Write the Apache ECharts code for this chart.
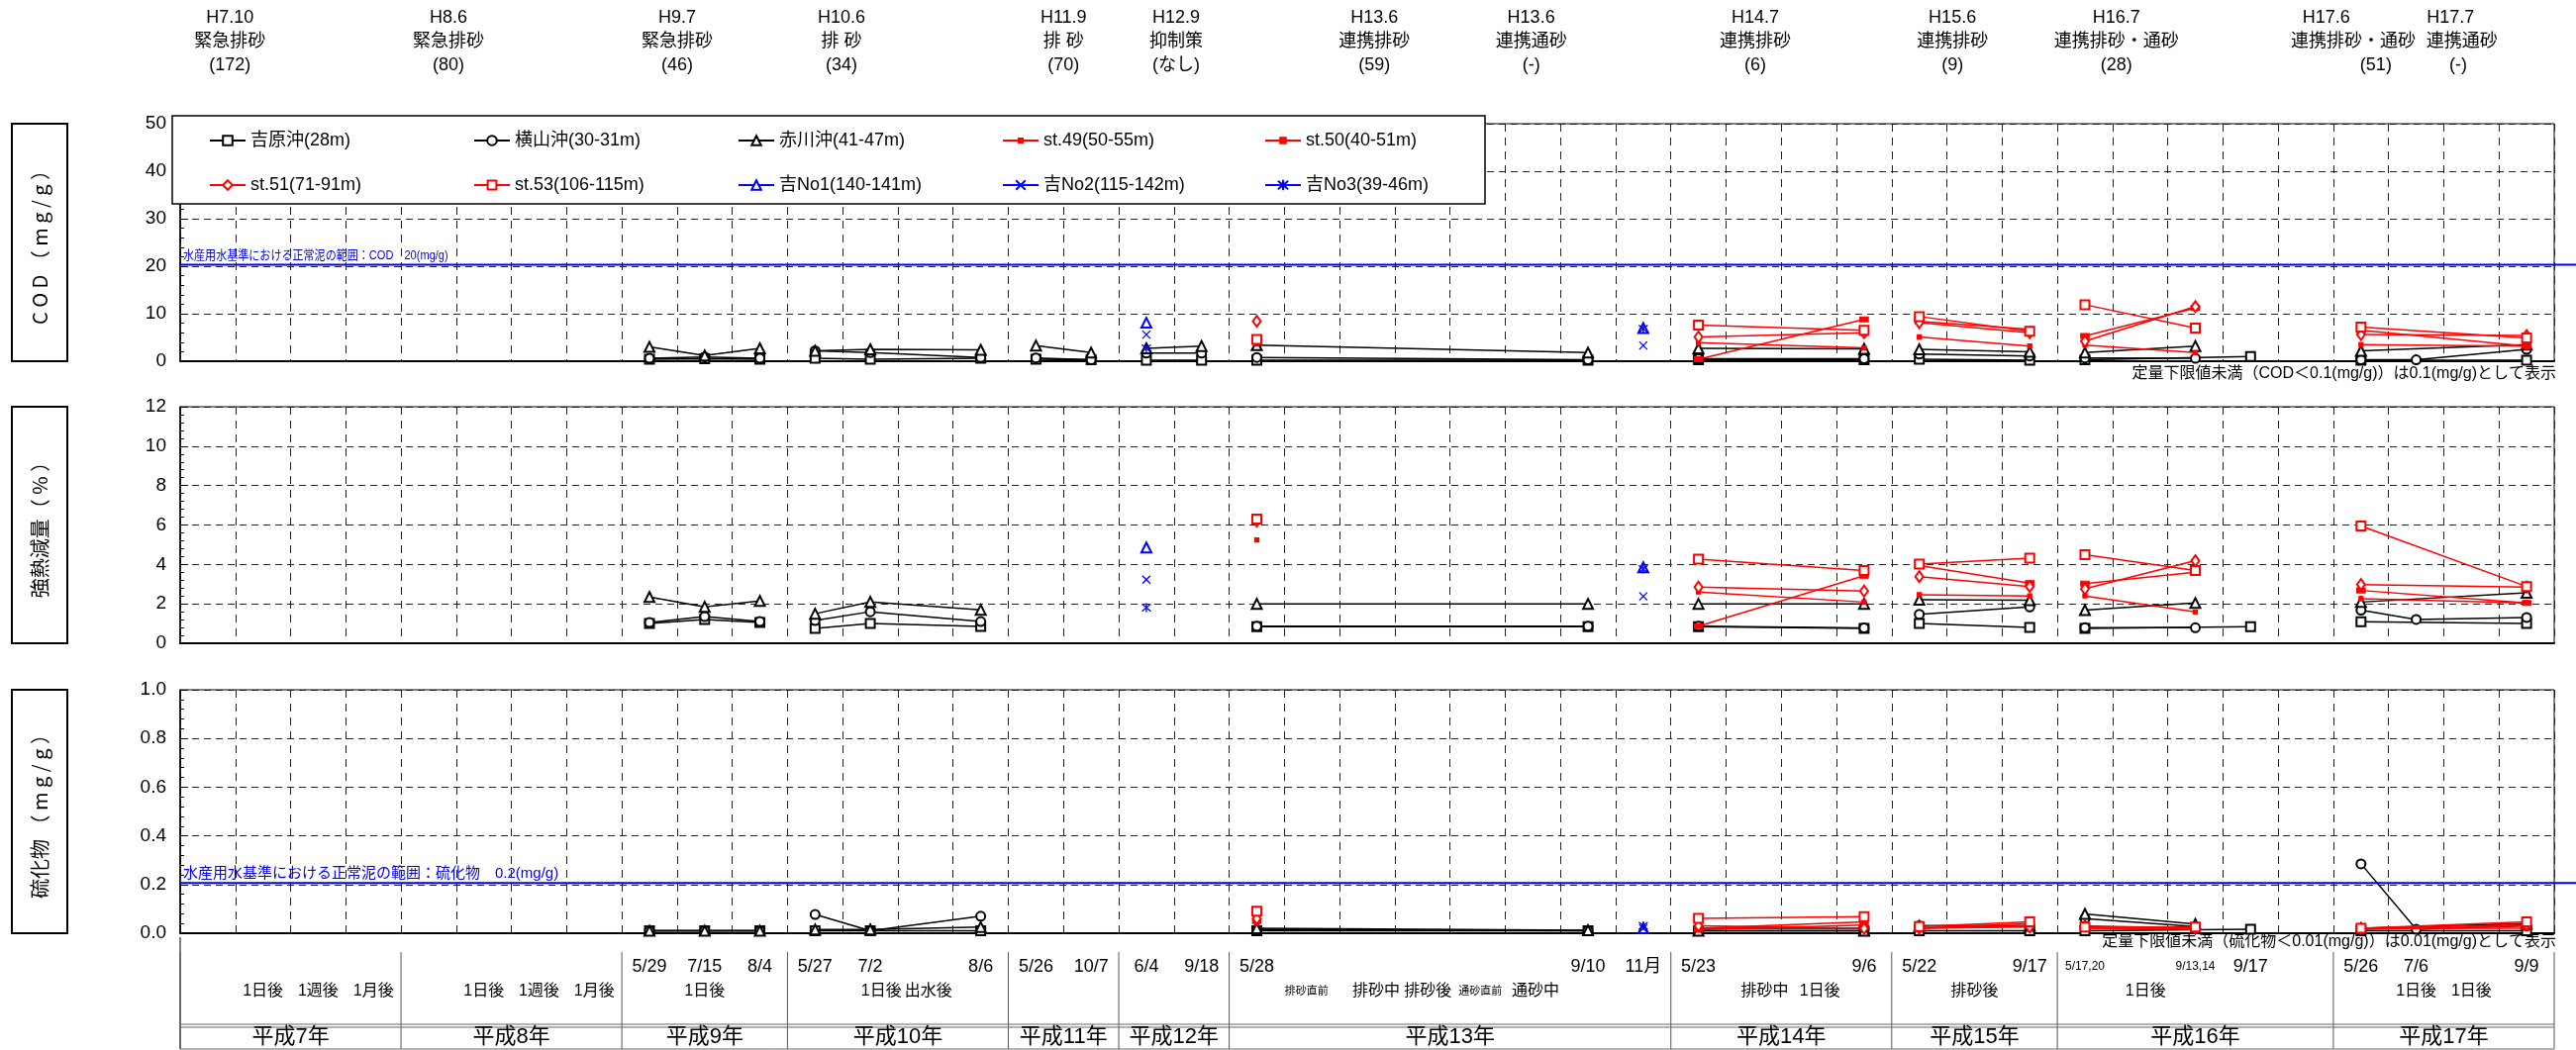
<!DOCTYPE html>
<html><head><meta charset="utf-8">
<script src="https://cdn.jsdelivr.net/npm/echarts@6/dist/echarts.min.js"></script>
<style>html,body{margin:0;padding:0;background:#fff}#c{width:2602px;height:1061px}</style>
</head><body><div id="c"></div>
<script>
// ---------- sampling slots (x position in axis units, year group, date label) ----------
const slotPos  = [8.5,9.5,10.5, 11.5,12.5,14.5, 15.5,16.5, 17.5,18.5, 19.5,25.5,26.5, 27.5,30.5, 31.5,33.5, 34.5,36.5,37.5, 39.5,40.5,42.5];
const slotYear = [9,9,9, 10,10,10, 11,11, 12,12, 13,13,13, 14,14, 15,15, 16,16,16, 17,17,17];
const slotDates = ['5/29','7/15','8/4','5/27','7/2','8/6','5/26','10/7','6/4','9/18','5/28','9/10','11月','5/23','9/6','5/22','9/17','5/17,20','9/13,14','9/17','5/26','7/6','9/9'];

const stationNames = ['吉原沖(28m)','横山沖(30-31m)','赤川沖(41-47m)','st.49(50-55m)','st.50(40-51m)','st.51(71-91m)','st.53(106-115m)','吉No1(140-141m)','吉No2(115-142m)','吉No3(39-46m)'];

const _ = null;
// ---------- COD (mg/g) ----------
const codYoshiwara = [0.4,0.5,0.4, 0.6,0.4,0.6, 0.4,0.3, 0.2,0.2, 0.2,0.2,_, 0.3,0.3, 0.4,0.2, 0.3,_,1.0, 0.2,_,0.2];
const codYokoyama  = [0.6,0.9,0.6, 2.2,1.8,0.8, 0.7,0.3, 1.7,1.7, 0.8,0.3,_, 0.5,0.5, 1.5,1.1, 0.7,0.6,_, 0.3,0.3,2.5];
const codAkagawa   = [3.0,1.2,2.7, 2.2,2.5,2.4, 3.3,1.8, 2.7,3.2, 3.4,1.8,_, 2.7,2.6, 2.5,2.0, 1.8,3.2,_, 2.2,_,3.5];
const codSt49 = [_,_,_,_,_,_,_,_,_,_, 3.6,_,_, 3.9,2.8, 5.1,3.2, 3.4,1.8,_, 3.5,_,3.2];
const codSt50 = [_,_,_,_,_,_,_,_,_,_, 4.2,_,_, 0.4,8.8, 8.4,6.7, 5.3,11.2,_, 6.5,_,3.2];
const codSt51 = [_,_,_,_,_,_,_,_,_,_, 8.4,_,_, 5.1,6.0, 8.1,6.0, 4.2,11.5,_, 5.6,_,5.4];
const codSt53 = [_,_,_,_,_,_,_,_,_,_, 4.6,_,_, 7.6,6.5, 9.4,6.3, 11.9,7.0,_, 7.2,_,4.9];
const codNo1  = [_,_,_,_,_,_,_,_, 8.1,_, _,_,7.0, _,_,_,_,_,_,_,_,_,_];
const codNo2  = [_,_,_,_,_,_,_,_, 5.6,_, _,_,3.3, _,_,_,_,_,_,_,_,_,_];
const codNo3  = [_,_,_,_,_,_,_,_, 2.7,_, _,_,6.8, _,_,_,_,_,_,_,_,_,_];

// ---------- 強熱減量 (%) ----------
const igYoshiwara = [1.0,1.2,1.05, 0.75,1.0,0.85, _,_, _,_, 0.84,0.84,_, 0.84,0.75, 1.0,0.8, 0.75,_,0.84, 1.09,_,1.0];
const igYokoyama  = [1.05,1.35,1.1, 1.15,1.6,1.1, _,_, _,_, 0.86,0.86,_, 0.86,0.78, 1.47,1.84, 0.79,0.79,_, 1.68,1.21,1.31];
const igAkagawa   = [2.35,1.85,2.15, 1.5,2.1,1.7, _,_, _,_, 2.0,2.0,_, 2.0,2.0, 2.21,2.18, 1.68,2.04,_, 2.09,_,2.56];
const igSt49 = [_,_,_,_,_,_,_,_,_,_, 5.24,_,_, 2.6,2.09, 2.46,2.40, 2.40,1.59,_, 2.26,_,2.05];
const igSt50 = [_,_,_,_,_,_,_,_,_,_, 6.25,_,_, 0.87,3.43, 3.94,3.05, 3.02,3.60,_, 2.68,_,2.05];
const igSt51 = [_,_,_,_,_,_,_,_,_,_, 6.2,_,_, 2.85,2.65, 3.38,2.88, 2.76,4.19,_, 2.98,_,2.85];
const igSt53 = [_,_,_,_,_,_,_,_,_,_, 6.3,_,_, 4.27,3.69, 4.02,4.32, 4.49,3.69,_, 5.95,_,2.88];
const igNo1  = [_,_,_,_,_,_,_,_, 4.86,_, _,_,3.85, _,_,_,_,_,_,_,_,_,_];
const igNo2  = [_,_,_,_,_,_,_,_, 3.23,_, _,_,2.38, _,_,_,_,_,_,_,_,_,_];
const igNo3  = [_,_,_,_,_,_,_,_, 1.81,_, _,_,3.77, _,_,_,_,_,_,_,_,_,_];

// ---------- 硫化物 (mg/g) ----------
const sfYoshiwara = [0.01,0.01,0.01, 0.01,0.01,0.01, _,_, _,_, 0.01,0.01,_, 0.01,0.01, 0.01,0.01, 0.01,_,0.016, 0.01,_,0.01];
const sfYokoyama  = [0.01,0.01,0.01, 0.077,0.01,0.07, _,_, _,_, 0.015,0.01,_, 0.02,0.02, 0.03,0.03, 0.06,0.027,_, 0.285,0.016,0.03];
const sfAkagawa   = [0.01,0.01,0.01, 0.015,0.015,0.025, _,_, _,_, 0.02,0.012,_, 0.01,0.01, 0.03,0.03, 0.079,0.038,_, 0.02,_,0.04];
const sfSt49 = [_,_,_,_,_,_,_,_,_,_, 0.04,_,_, 0.02,0.047, 0.02,0.03, 0.02,0.02,_, 0.02,_,0.02];
const sfSt50 = [_,_,_,_,_,_,_,_,_,_, 0.05,_,_, 0.014,0.034, 0.02,0.04, 0.02,0.015,_, 0.015,_,0.03];
const sfSt51 = [_,_,_,_,_,_,_,_,_,_, 0.06,_,_, 0.03,0.02, 0.02,0.025, 0.03,0.02,_, 0.02,_,0.035];
const sfSt53 = [_,_,_,_,_,_,_,_,_,_, 0.09,_,_, 0.061,0.068, 0.027,0.047, 0.025,0.025,_, 0.02,_,0.047];
const sfNo1  = [_,_,_,_,_,_,_,_, _,_, _,_,0.02, _,_,_,_,_,_,_,_,_,_];
const sfNo2  = [_,_,_,_,_,_,_,_, _,_, _,_,0.02, _,_,_,_,_,_,_,_,_,_];
const sfNo3  = [_,_,_,_,_,_,_,_, _,_, _,_,0.03, _,_,_,_,_,_,_,_,_,_];

// ---------- axes ----------
const yMax = [50, 12, 1.0];
const yInterval = [10, 2, 0.2];
const xMax = 43;
const refValues = [20, null, 0.2];
const refTexts = ['水産用水基準における正常泥の範囲：COD　20(mg/g)', null, '水産用水基準における正常泥の範囲：硫化物　0.2(mg/g)'];
const panelTitles = ['C O D （ m g / g ）', '強熱減量（ % ）', '硫化物 （ m g / g ）'];

// ---------- header events ----------
const headerL1 = [[0.9,'H7.10'],[4.86,'H8.6'],[9.0,'H9.7'],[11.98,'H10.6'],[16.0,'H11.9'],[18.04,'H12.9'],[21.63,'H13.6'],[24.47,'H13.6'],[28.53,'H14.7'],[32.1,'H15.6'],[35.07,'H16.7'],[38.87,'H17.6'],[41.12,'H17.7']];
const headerL2 = [[0.9,'緊急排砂'],[4.86,'緊急排砂'],[9.0,'緊急排砂'],[11.98,'排 砂'],[16.0,'排 砂'],[18.04,'抑制策'],[21.63,'連携排砂'],[24.47,'連携通砂'],[28.53,'連携排砂'],[32.1,'連携排砂'],[35.07,'連携排砂・通砂'],[39.36,'連携排砂・通砂'],[41.33,'連携通砂']];
const headerL3 = [[0.9,'(172)'],[4.86,'(80)'],[9.0,'(46)'],[11.98,'(34)'],[16.0,'(70)'],[18.04,'(なし)'],[21.63,'(59)'],[24.47,'(-)'],[28.53,'(6)'],[32.1,'(9)'],[35.07,'(28)'],[39.77,'(51)'],[41.26,'(-)']];

// ---------- table ----------
const yearNames  = ['平成7年','平成8年','平成9年','平成10年','平成11年','平成12年','平成13年','平成14年','平成15年','平成16年','平成17年'];
const yearBounds = [0,4,8,11,15,17,19,27,31,34,39,43];
const subLabels = [[1.5,'1日後'],[2.5,'1週後'],[3.5,'1月後'],[5.5,'1日後'],[6.5,'1週後'],[7.5,'1月後'],[9.5,'1日後'],[12.7,'1日後'],[13.55,'出水後'],
  [21.66,'排砂中'],[22.6,'排砂後'],[24.55,'通砂中'],[28.7,'排砂中'],[29.7,'1日後'],[32.5,'排砂後'],[35.6,'1日後'],[40.5,'1日後'],[41.5,'1日後']];
const subLabelsSmall = [[20.4,'排砂直前'],[23.55,'通砂直前']];

// ================= build =================
const panelData = [
  [codYoshiwara,codYokoyama,codAkagawa,codSt49,codSt50,codSt51,codSt53,codNo1,codNo2,codNo3],
  [igYoshiwara,igYokoyama,igAkagawa,igSt49,igSt50,igSt51,igSt53,igNo1,igNo2,igNo3],
  [sfYoshiwara,sfYokoyama,sfAkagawa,sfSt49,sfSt50,sfSt51,sfSt53,sfNo1,sfNo2,sfNo3]
];
const stStyle = [
  {c:'#000', s:'emptyRect', z:[9,9], li:12},
  {c:'#000', s:'emptyCircle', z:[9,9], li:12},
  {c:'#000', s:'emptyTriangle', z:[10,10], li:12},
  {c:'#f00', s:'rect', z:[4,4], li:5},
  {c:'#f00', s:'rect', z:[8,5], li:7},
  {c:'#f00', s:'emptyDiamond', z:[8,11], li:12},
  {c:'#f00', s:'emptyRect', z:[9,9], li:11},
  {c:'#00f', s:'emptyTriangle', z:[10,10], li:12},
  {c:'#00f', s:'path://M0,0L10,10M10,0L0,10', z:[8,8], li:12},
  {c:'#00f', s:'path://M0,0L10,10M10,0L0,10M5,-1L5,11', z:[9,9], li:13}
];
function build(vals){
  const out=[]; let prev=null;
  vals.forEach((v,i)=>{
    if(v===null) return;
    if(prev!==null && slotYear[i]!==prev) out.push([slotPos[i]-0.5,'-']);
    out.push([slotPos[i], v]); prev=slotYear[i];
  });
  return out;
}

const FN = "'Liberation Sans','Noto Sans CJK JP',sans-serif";
const FJ = "'Noto Sans CJK JP',sans-serif";

const gridTops = [125, 411, 697], gridHeights = [240, 239, 246];
const grids = gridTops.map((t,i)=>({left:182, top:t, width:2398, height:gridHeights[i], show:true, borderColor:'#000', borderWidth:1, backgroundColor:'transparent'}));
const xAxes = [0,1,2].map(i=>({type:'value', gridIndex:i, min:0, max:xMax, interval:1,
  axisLabel:{show:false}, axisTick:{show:false},
  axisLine:{show:true, onZero:false, lineStyle:{color:'#000', width:2}},
  splitLine:{show:true, lineStyle:{type:[8,6], color:'#222', width:1}}}));
const yAxes = [0,1,2].map(i=>({type:'value', gridIndex:i, min:0, max:yMax[i], interval:yInterval[i],
  axisLabel:{fontSize:19, fontFamily:"'Liberation Sans',sans-serif", color:'#000', margin:14,
    formatter: v => i===2 ? v.toFixed(1) : String(v)},
  axisLine:{show:true, lineStyle:{color:'#000', width:1.5}},
  axisTick:{show:true, inside:true, length:8, lineStyle:{color:'#000'}},
  minorTick:{show:true, splitNumber:5, length:4, lineStyle:{color:'#000'}},
  splitLine:{show:true, lineStyle:{type:[7,5], color:'#222', width:1}}}));

const series=[];
for(let p=0;p<3;p++){
  for(let k=0;k<10;k++){
    const st=stStyle[k];
    series.push({name:stationNames[k], type:'line', xAxisIndex:p, yAxisIndex:p,
      data: build(panelData[p][k]), symbol:st.s, symbolSize:st.z, showAllSymbol:true, connectNulls:false,
      lineStyle:{color:st.c, width:1.5}, itemStyle:{color:st.c, borderColor:st.c, borderWidth:1.3},
      emphasis:{disabled:true}, z: k>=3 ? 4 : 3, animation:false});
  }
}

// legend: 5 columns x 2 rows, one legend component per item so each icon keeps its own size
const legendX = [211, 478, 745, 1012, 1277];
const legendRowTop = [131, 176];
const legendNameRows = [[0,1,2,3,4],[5,6,7,8,9]];
const legends = [];
legendNameRows.forEach((row,r)=>row.forEach((j,c)=>{
  legends.push({data:[stationNames[j]], orient:'horizontal', left:legendX[c], top:legendRowTop[r],
    itemWidth:36, itemHeight:stStyle[j].li, itemGap:0, padding:0, selectedMode:false, z:20,
    textStyle:{fontSize:18, fontFamily:FN, color:'#000', lineHeight:22}});
}));

const chart = echarts.init(document.getElementById('c'));
chart.setOption({animation:false, backgroundColor:'#fff', grid:grids, xAxis:xAxes, yAxis:yAxes, series, legend:legends});

// ================= decorations =================
const px=(g,u,v)=>chart.convertToPixel({gridIndex:g},[u,v]);
const G=[];
function T(x,y,text,size,o={}){
  G.push({type:'text', x, y, rotation:o.rot||0, scaleX:o.sx||1, z:50,
    style:{text, x:0, y:0, fill:o.color||'#000', font:`${size}px ${o.ff||FN}`,
      align:o.align||'center', verticalAlign:'middle', textAlign:o.align||'center', textVerticalAlign:'middle'}});
}
function L(x1,y1,x2,y2,c,w){ G.push({type:'line', z:40, shape:{x1,y1,x2,y2}, style:{stroke:c||'#000', lineWidth:w||1}}); }

// panel title boxes
for(let g=0;g<3;g++){
  const top=px(g,0,yMax[g])[1], bot=px(g,0,0)[1];
  G.push({type:'rect', z:40, shape:{x:12,y:top,width:56,height:bot-top}, style:{fill:'#fff', stroke:'#000', lineWidth:2}});
  T(40,(top+bot)/2,panelTitles[g],20,{rot:Math.PI/2, ff:FJ});
}
// legend box
G.push({type:'rect', z:10, shape:{x:174,y:117,width:1326,height:89}, style:{fill:'#fff', stroke:'#000', lineWidth:1.5}});

// reference lines
const refFont = [13, null, 15];
for(let g=0;g<3;g++){
  if(refValues[g]===null) continue;
  const y=px(g,0,refValues[g])[1]-1.5;
  const x0=px(g,0,0)[0];
  L(x0,y,2602,y,'#0000ee',2);
  T(x0+3,y-9,refTexts[g],refFont[g],{color:'#0000ee', align:'left', sx:g===0?0.85:1});
}
// notes
T(2582, px(0,0,0)[1]+13, '定量下限値未満（COD＜0.1(mg/g)）は0.1(mg/g)として表示', 16, {align:'right'});
T(2582, px(2,0,0)[1]+9, '定量下限値未満（硫化物＜0.01(mg/g)）は0.01(mg/g)として表示', 16, {align:'right'});

// header
headerL1.forEach(([u,t])=>T(px(0,u,0)[0],18,t,18));
headerL2.forEach(([u,t])=>T(px(0,u,0)[0],42,t,18));
headerL3.forEach(([u,t])=>T(px(0,u,0)[0],66,t,18));

// table
const tTop=962, tDiv=1035, tBot=1060;
yearBounds.forEach(u=>{ const x=px(2,u,0)[0]; L(x,tTop,x,tBot,'#555',1); });
const xl=px(2,0,0)[0], xr=px(2,xMax,0)[0];
L(xl,947,xl,tBot,'#555',1.5);
L(xl,tDiv,xr,tDiv,'#666',1); L(xl,tDiv+3,xr,tDiv+3,'#666',1);
L(xl,tBot,xr,tBot,'#666',1);
slotDates.forEach((t,i)=>{ const small=t.indexOf(',')>=0; T(px(2,slotPos[i],0)[0],977,t,small?12:18); });
subLabels.forEach(([u,t])=>T(px(2,u,0)[0],1002,t,16));
subLabelsSmall.forEach(([u,t])=>T(px(2,u,0)[0],1002,t,11));
yearNames.forEach((t,i)=>T(px(2,(yearBounds[i]+yearBounds[i+1])/2,0)[0],1048,t,22));

chart.setOption({graphic:{elements:G}});
</script></body></html>
